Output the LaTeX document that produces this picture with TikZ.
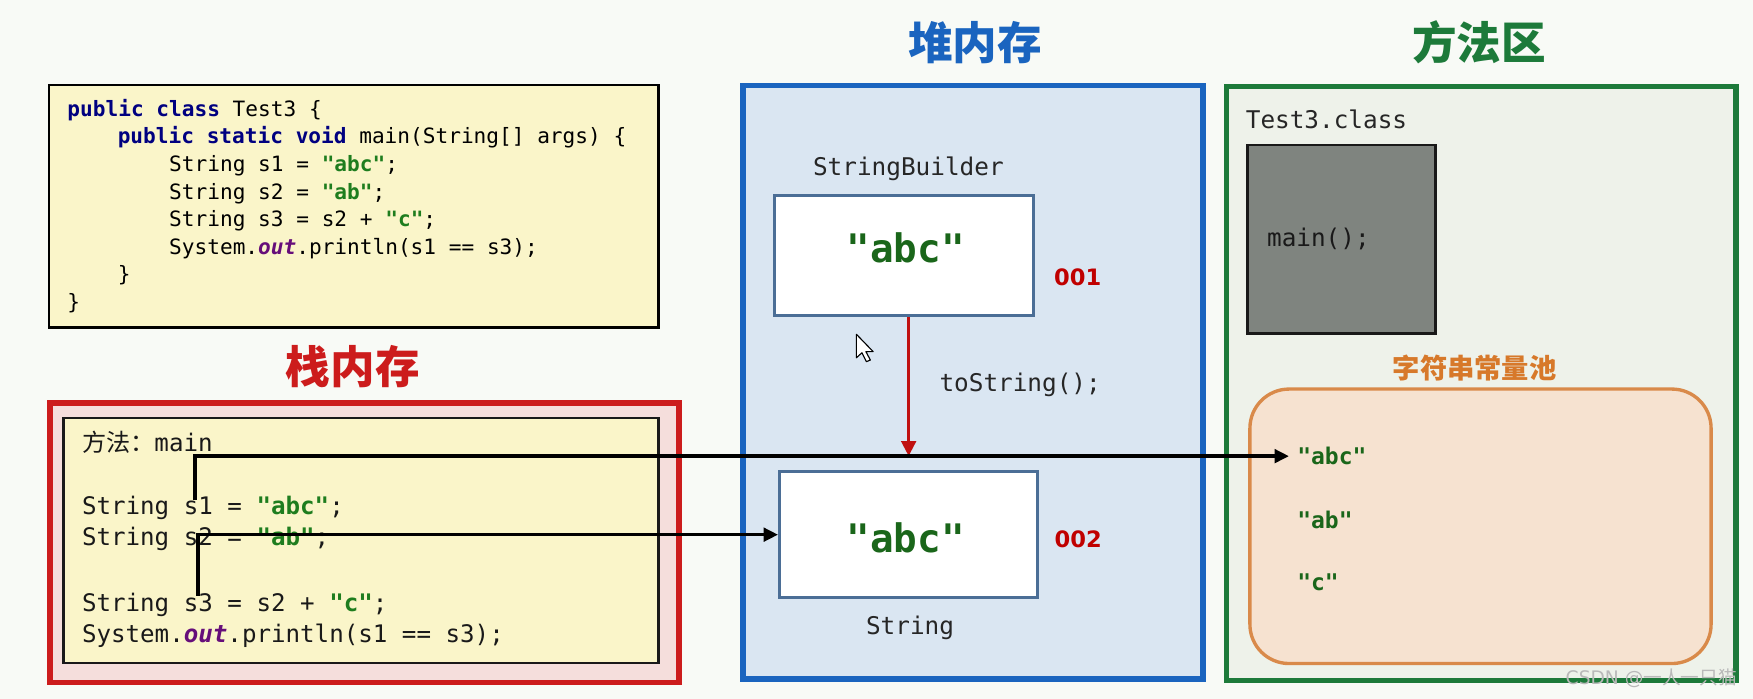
\documentclass[tikz,border=0pt]{standalone}
\usepackage{fontspec}
\setmainfont{DejaVu Sans}
\setmonofont{DejaVu Sans Mono}
\newfontfamily\cjk{Noto Sans CJK SC}
\newfontfamily\cjkheavy{Noto Sans CJK SC Black}
\usetikzlibrary{arrows.meta,fit}
\definecolor{bg}{HTML}{F8FAF6}
\definecolor{codebg}{HTML}{FAF5C9}
\definecolor{kwc}{HTML}{000080}
\definecolor{strc}{HTML}{1E7D1E}
\definecolor{bigstrc}{HTML}{1A661A}
\definecolor{outc}{HTML}{660E7A}
\definecolor{stackred}{HTML}{CC1C1C}
\definecolor{stackbg}{HTML}{F5DEDC}
\definecolor{heapblue}{HTML}{1A64BF}
\definecolor{heapbg}{HTML}{DAE6F2}
\definecolor{objborder}{HTML}{4B6E96}
\definecolor{methgreen}{HTML}{1D7A3A}
\definecolor{methbg}{HTML}{EEF2EA}
\definecolor{grayboxc}{HTML}{7F847F}
\definecolor{poolborder}{HTML}{D98A4A}
\definecolor{poolbg}{HTML}{F6E2D0}
\definecolor{pooltitle}{HTML}{D7792A}
\definecolor{addrred}{HTML}{C00000}
\definecolor{arrred}{HTML}{C01010}
\newcommand{\kw}[1]{\textbf{\color{kwc}#1}}
\newcommand{\strg}[1]{\textbf{\color{strc}#1}}
\newcommand{\outkw}[1]{\textbf{\itshape\color{outc}#1}}
\begin{document}
\begin{tikzpicture}[x=0.02cm,y=-0.02cm,
  codetxt/.style={anchor=base west, inner sep=0, font=\ttfamily\fontsize{10.75}{13}\selectfont},
  stacktxt/.style={anchor=base west, inner sep=0, font=\ttfamily\fontsize{12.3}{15}\selectfont, text=black!90},
  lbl/.style={inner sep=0, font=\ttfamily\fontsize{12.4}{15}\selectfont, text=black!85},
  bigstr/.style={inner sep=0, font=\ttfamily\bfseries\fontsize{20}{24}\selectfont, text=bigstrc},
  addr/.style={inner sep=0, font=\rmfamily\bfseries\fontsize{11.5}{14}\selectfont, text=addrred},
  title/.style={inner sep=0, font=\cjkheavy\fontsize{22.7}{26}\selectfont},
  poolstr/.style={anchor=west, inner sep=0.14cm, font=\ttfamily\bfseries\fontsize{11.7}{14}\selectfont, text=bigstrc},
  area/.style={inner sep=0, line width=0.1cm},
  objbox/.style={inner sep=0, draw=objborder, line width=0.06cm, fill=white},
  conn/.style={line width=0.065cm, -{Triangle[length=0.26cm,width=0.24cm]}},
  redconn/.style={line width=0.06cm, arrred, -{Triangle[length=0.27cm,width=0.26cm]}}]
\useasboundingbox[fill=bg] (0,0) rectangle (1568,625);

% ---------- code box ----------
\node[fit={(44,76) (589,293)}, inner sep=0, draw=black, line width=0.045cm, fill=codebg] (codebox) {};
\node[codetxt] (c1) at (60,104.4) {\kw{public} \kw{class} Test3 \{};
\node[codetxt] (c2) at (105,128.8) {\kw{public} \kw{static} \kw{void} main(String[] args) \{};
\node[codetxt] (c3) at (151,153.5) {String s1 = \strg{"abc"};};
\node[codetxt] (c4) at (151,178.2) {String s2 = \strg{"ab"};};
\node[codetxt] (c5) at (151,202.8) {String s3 = s2 + \strg{"c"};};
\node[codetxt] (c6) at (151,227.4) {System.\outkw{out}.println(s1 == s3);};
\node[codetxt] (c7) at (105,252) {\}};
\node[codetxt] (c8) at (60,276.7) {\}};

% ---------- titles ----------
\node[title, text=heapblue] (heaptitle) at (872,38) {堆内存};
\node[title, text=methgreen] (methtitle) at (1323,38) {方法区};
\node[title, text=stackred] (stacktitle) at (315.5,328) {栈内存};

% ---------- stack ----------
\node[fit={(44.5,360.3) (607.5,610.3)}, area, draw=stackred, fill=stackbg] (stack) {};
\node[fit={(57,373.7) (589,593)}, inner sep=0, draw=black!90, line width=0.045cm, fill=codebg] (frame) {};
\node[stacktxt] (m0) at (73,404) {{\cjk 方法：}main};
\node[stacktxt] (m1) at (73,460.5) {String s1 = \strg{"abc"};};
\node[stacktxt] (m2) at (73,488) {String s2 = \strg{"ab"};};
\node[stacktxt] (m3) at (73,547) {String s3 = s2 + \strg{"c"};};
\node[stacktxt] (m4) at (73,574.5) {System.\outkw{out}.println(s1 == s3);};

% ---------- heap ----------
\node[fit={(664.5,76.5) (1076,607.5)}, area, draw=heapblue, fill=heapbg] (heap) {};
\node[lbl, anchor=base] (sblbl) at (812.5,157) {StringBuilder};
\node[fit={(693,175) (924.5,282)}, objbox] (sbbox) {};
\node[bigstr] (sbval) at (810,221.6) {"abc"};
\node[addr] (a1) at (964,247.6) {001};
\node[fit={(697.5,422) (928,534.5)}, objbox] (strbox) {};
\node[bigstr] (strval) at (810,481) {"abc"};
\node[addr] (a2) at (964.5,482) {002};
\node[lbl, anchor=base] (strlbl) at (814,567.5) {String};
\node[lbl, anchor=base west] (tostr) at (840,350.5) {toString();};
% mouse cursor
\draw[black, line width=0.02cm, fill=white, line join=round]
  (766,299) -- (766,320) -- (771,315.5) -- (775,323.5) -- (778.5,322) -- (774.5,314.5) -- (781,314.5) -- cycle;

% ---------- method area ----------
\node[fit={(1097,77.5) (1553,608.5)}, area, draw=methgreen, fill=methbg] (meth) {};
\node[lbl, anchor=base west] (clslbl) at (1114,114.5) {Test3.class};
\node[fit={(1116,129.6) (1284,298.5)}, inner sep=0, draw=black!90, line width=0.045cm, fill=grayboxc] (clsbox) {};
\node[lbl, anchor=base west, text=black!90] (mainm) at (1133,220.5) {main();};
\node[inner sep=0, font=\cjkheavy\fontsize{13.9}{16}\selectfont, text=pooltitle] (pooltitle) at (1319,329.5) {字符串常量池};
\node[fit={(1118,348) (1530.5,593.5)}, inner sep=0, draw=poolborder, line width=0.06cm, fill=poolbg, rounded corners=0.7cm] (pool) {};
\node[poolstr] (pabc) at (1153,408) {"abc"};
\node[poolstr] (pab) at (1153,465) {"ab"};
\node[poolstr] (pc) at (1153,521) {"c"};

% ---------- connectors ----------
\coordinate (s1start) at (174.5,447);
\coordinate (s3start) at (177,533);
\draw[redconn, shorten >=0.25cm] (strbox.north |- sbbox.south) -- (strbox.north);
\draw[conn] (s1start) |- (pabc.west);
\draw[conn] (s3start) |- (strbox.west);

% watermark
\node[inner sep=0, text=gray!55, font=\rmfamily\fontsize{9.5}{11}\selectfont] (wm) at (1477,607) {CSDN @{\cjk 一人一只猫}};
\end{tikzpicture}
\end{document}
